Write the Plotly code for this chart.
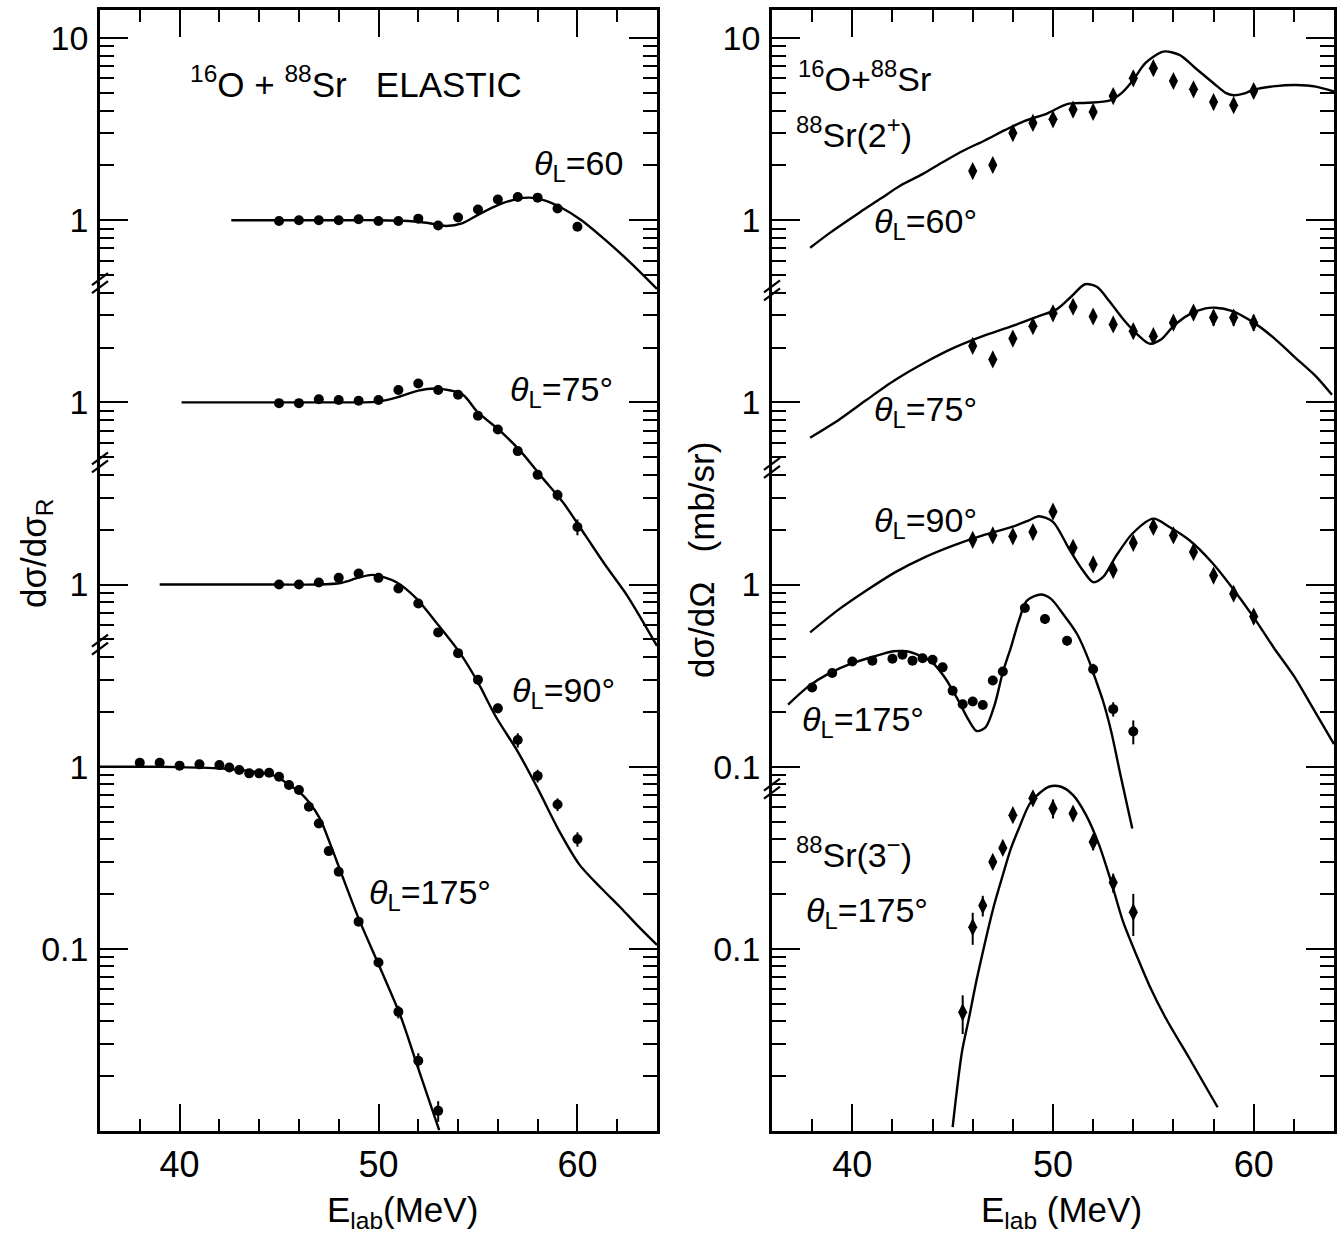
import numpy as np
import plotly.graph_objects as go

# ================= DATA =================
# Left panel: 16O + 88Sr elastic, dsigma/dsigma_R (each angle shifted down by one decade)
el60_E = [45, 46, 47, 48, 49, 50, 51, 52, 53, 54, 55, 56, 57, 58, 59, 60]
el60_V = [0.99, 1.0, 1.0, 1.0, 1.013, 0.99, 0.99, 1.02, 0.935, 1.034, 1.145, 1.30, 1.34, 1.33, 1.16, 0.92]
el60_err = [0, 0, 0, 0, 0, 0, 0, 0, 0, 0, 0, 0, 0, 0, 0, 0.04]
el60_cE = [42.6, 44, 46, 48, 50, 51.5, 52.5, 53.4, 54.2, 55.0, 56.0, 57.0, 57.6, 58.3, 59.2, 60.2, 61.4, 62.7, 64.0]
el60_cV = [1.0, 1.0, 1.0, 1.0, 1.0, 0.99, 0.965, 0.93, 0.96, 1.07, 1.21, 1.31, 1.33, 1.29, 1.17, 1.0, 0.78, 0.58, 0.42]

el75_E = [45, 46, 47, 48, 49, 50, 51, 52, 53, 54, 55, 56, 57, 58, 59, 60]
el75_V = [0.99, 0.99, 1.04, 1.03, 1.02, 1.03, 1.17, 1.27, 1.17, 1.10, 0.845, 0.71, 0.54, 0.40, 0.31, 0.207]
el75_err = [0, 0, 0, 0, 0, 0, 0, 0, 0, 0, 0, 0, 0, 0.04, 0.07, 0.10]
el75_cE = [40.1, 42, 44, 46, 48, 50, 51.0, 52.0, 52.9, 54.2, 55.0, 56.1, 57.2, 58.2, 59.3, 60.4, 61.4, 62.5, 63.2, 64.0]
el75_cV = [1.0, 1.0, 1.0, 1.0, 1.0, 1.01, 1.07, 1.16, 1.19, 1.11, 0.88, 0.70, 0.53, 0.39, 0.28, 0.186, 0.128, 0.087, 0.065, 0.046]

el90_E = [45, 46, 47, 48, 49, 50, 51, 52, 53, 54, 55, 56, 57, 58, 59, 60]
el90_V = [1.0, 1.0, 1.025, 1.088, 1.149, 1.088, 0.951, 0.787, 0.546, 0.42, 0.30, 0.209, 0.140, 0.089, 0.062, 0.040]
el90_err = [0, 0, 0, 0, 0, 0, 0, 0, 0, 0, 0.06, 0.06, 0.09, 0.08, 0.08, 0.09]
el90_cE = [39.0, 41, 43, 45, 47, 48.1, 49.0, 49.7, 50.9, 51.9, 53.0, 54.1, 55.0, 55.9, 57.0, 58.0, 59.1, 60.1, 61.2, 62.2, 63.0, 64.0]
el90_cV = [1.0, 1.0, 1.0, 1.0, 1.0, 1.02, 1.09, 1.13, 1.03, 0.84, 0.60, 0.42, 0.29, 0.188, 0.121, 0.076, 0.044, 0.029, 0.0215, 0.0167, 0.0135, 0.0105]

el175_E = [38, 39, 40, 41, 42, 42.5, 43, 43.5, 44, 44.5, 45, 45.5, 46, 46.5, 47, 47.5, 48, 49, 50, 51, 52, 53]
el175_V = [1.05, 1.05, 1.013, 1.03, 1.02, 0.99, 0.959, 0.919, 0.919, 0.927, 0.881, 0.793, 0.745, 0.603,
           0.488, 0.344, 0.265, 0.141, 0.0841, 0.0451, 0.0243, 0.0129]
el175_err = [0] * 19 + [0.08, 0.10, 0.13]
el175_cE = [36, 38, 40, 42, 43, 44, 44.9, 45.4, 46.0, 46.5, 47.05, 47.6, 48.1, 49.0, 50.05, 51.1, 52.0, 53.05]
el175_cV = [1.0, 1.0, 0.995, 0.98, 0.96, 0.93, 0.88, 0.81, 0.73, 0.64, 0.52, 0.37, 0.265, 0.147, 0.080, 0.043, 0.022, 0.0101]

# Right panel: inelastic dsigma/dOmega (mb/sr)
in60_E = [46, 47, 48, 49, 50, 51, 52, 53, 54, 55, 56, 57, 58, 59, 60]
in60_V = [1.86, 2.01, 3.01, 3.42, 3.58, 4.05, 3.93, 4.80, 6.01, 6.83, 5.81, 5.23, 4.45, 4.28, 5.12]
in60_err = [0.05] * 13 + [0.06, 0.08]
in60_cE = [37.9, 38.9, 40.35, 41.4, 42.4, 43.5, 44.5, 45.5, 46.6, 47.6, 48.6, 49.7, 50.7, 51.7, 52.8, 53.4,
           54.0, 54.6, 55.5, 56.3, 57.1, 58.0, 58.6, 59.0, 59.5, 60.0, 61.1, 62.1, 63.1, 64.0]
in60_cV = [0.706, 0.855, 1.10, 1.31, 1.55, 1.79, 2.08, 2.40, 2.74, 3.12, 3.51, 3.85, 4.34, 4.41, 4.53, 4.97,
           5.89, 7.28, 8.43, 8.08, 6.83, 5.65, 5.0, 4.85, 4.95, 5.2, 5.45, 5.52, 5.41, 5.08]

in75_E = [46, 47, 48, 49, 50, 51, 52, 53, 54, 55, 56, 57, 58, 59, 60]
in75_V = [2.04, 1.72, 2.24, 2.62, 3.08, 3.35, 2.96, 2.68, 2.46, 2.31, 2.74, 3.11, 2.92, 2.92, 2.74]
in75_err = [0.06, 0.05, 0.05, 0.05, 0.05, 0.05, 0.05, 0.05, 0.05, 0.05, 0.07, 0.06, 0.10, 0.10, 0.10]
in75_cE = [37.9, 39.25, 40.7, 42.15, 43.6, 45.05, 46.5, 47.95, 49.2, 50.2, 50.9, 51.6, 52.2, 52.8, 53.5, 54.2,
           54.8, 55.4, 56.0, 56.8, 57.6, 58.1, 58.9, 60.0, 61.0, 62.0, 63.1, 63.9]
in75_cV = [0.64, 0.79, 1.03, 1.33, 1.65, 1.99, 2.31, 2.62, 2.95, 3.25, 3.8, 4.45, 4.3, 3.6, 2.86, 2.36,
           2.10, 2.22, 2.62, 3.04, 3.28, 3.31, 3.18, 2.74, 2.26, 1.79, 1.39, 1.10]

in90_E = [46, 47, 48, 49, 50, 51, 52, 53, 54, 55, 56, 57, 58, 59, 60]
in90_V = [1.76, 1.86, 1.84, 1.94, 2.51, 1.59, 1.29, 1.20, 1.69, 2.07, 1.86, 1.51, 1.12, 0.89, 0.667]
in90_err = [0.04, 0.04, 0.05, 0.05, 0.06, 0.07, 0.08, 0.06, 0.06, 0.07, 0.06, 0.06, 0.08, 0.08, 0.09]
in90_cE = [37.9, 39.25, 40.7, 42.15, 43.6, 45.05, 46.5, 47.95, 48.8, 49.3, 50.0, 50.8, 51.5, 52.0, 52.5, 53.1,
           53.95, 55.0, 55.8, 56.8, 57.9, 58.9, 60.0, 61.0, 62.0, 63.0, 64.0]
in90_cV = [0.546, 0.719, 0.927, 1.17, 1.41, 1.64, 1.86, 2.07, 2.25, 2.37, 2.21, 1.57, 1.19, 1.03, 1.10, 1.41,
           1.90, 2.30, 2.07, 1.75, 1.33, 0.97, 0.66, 0.45, 0.315, 0.205, 0.133]

in175_E = [38, 39, 40, 41, 42, 42.5, 43, 43.5, 44, 44.5, 45, 45.5, 46, 46.5, 47, 47.5, 48.6, 49.6, 50.7, 52, 53, 54]
in175_V = [0.272, 0.327, 0.378, 0.382, 0.391, 0.412, 0.382, 0.394, 0.386, 0.351, 0.261, 0.220, 0.228, 0.218,
           0.297, 0.333, 0.743, 0.647, 0.491, 0.343, 0.207, 0.156]
in175_err = [0.03] * 16 + [0.04, 0.06, 0.06, 0.07, 0.09, 0.15]
in175_cE = [36.8, 37.8, 38.8, 40.0, 41.0, 42.05, 42.7, 43.3, 43.9, 44.6, 45.2, 45.8, 46.2, 46.65, 47.1, 47.5,
            47.9, 48.3, 48.7, 49.4, 49.9, 50.5, 51.2, 51.8, 52.1, 52.5, 52.9, 53.4, 53.95]
in175_cV = [0.219, 0.275, 0.323, 0.37, 0.40, 0.43, 0.43, 0.41, 0.38, 0.31, 0.24, 0.18, 0.157, 0.165, 0.22, 0.33,
            0.45, 0.633, 0.816, 0.881, 0.834, 0.689, 0.535, 0.38, 0.306, 0.228, 0.156, 0.086, 0.0458]

oc175_E = [45.5, 46, 46.5, 47, 47.5, 48, 49, 50, 51, 52, 53, 54]
oc175_V = [0.0448, 0.1315, 0.173, 0.300, 0.358, 0.542, 0.67, 0.590, 0.553, 0.386, 0.231, 0.159]
oc175_err = [0.24, 0.20, 0.13, 0.08, 0.08, 0.07, 0.06, 0.12, 0.06, 0.10, 0.12, 0.26]
oc175_cE = [45.0, 45.46, 45.8, 46.2, 46.65, 47.06, 47.5, 47.9, 48.3, 48.9, 49.8, 50.4, 51.0, 51.65, 52.3, 52.9,
            53.5, 54.2, 54.8, 55.6, 56.8, 58.2]
oc175_cV = [0.0105, 0.027, 0.041, 0.068, 0.113, 0.173, 0.254, 0.355, 0.458, 0.641, 0.776, 0.776, 0.698, 0.542,
            0.371, 0.233, 0.14, 0.09, 0.063, 0.042, 0.025, 0.0135]

# decade shift applied to each series when stacked on the common log axis
left_series = [
    (el60_E, el60_V, el60_err, el60_cE, el60_cV, 0),
    (el75_E, el75_V, el75_err, el75_cE, el75_cV, 1),
    (el90_E, el90_V, el90_err, el90_cE, el90_cV, 2),
    (el175_E, el175_V, el175_err, el175_cE, el175_cV, 3),
]
right_series = [
    (in60_E, in60_V, in60_err, in60_cE, in60_cV, 0),
    (in75_E, in75_V, in75_err, in75_cE, in75_cV, 1),
    (in90_E, in90_V, in90_err, in90_cE, in90_cV, 2),
    (in175_E, in175_V, in175_err, in175_cE, in175_cV, 2),
    (oc175_E, oc175_V, oc175_err, oc175_cE, oc175_cV, 3),
]

left_ticks = [10, 1, 0.1, 0.01, 0.001, 0.0001]
left_ticktext = ["10", "1", "1", "1", "1", "0.1"]
right_ticks = [10, 1, 0.1, 0.01, 0.001, 0.0001]
right_ticktext = ["10", "1", "1", "1", "0.1", "0.1"]
x_ticks = [40, 50, 60]
x_ticktext = ["40", "50", "60"]

# ================= LAYOUT CONSTANTS =================
W, H = 1338, 1237
FONT = "Liberation Sans"
XR = [36, 64]
YR = [-5.0, 1.154]
XD_L = [100 / W, 657 / W]
XD_R = [772 / W, 1334 / W]
YD = [1 - 1131 / H, 1 - 10 / H]

fig = go.Figure()


def add_series(series, xa, ya, marker_symbol, msize):
    for i, (E, V, err, cE, cV, k) in enumerate(series):
        s = 10.0 ** (-k)
        v = np.array(V) * s
        e = np.array(V) * np.array(err) * s
        fig.add_trace(go.Scatter(
            x=cE, y=np.array(cV) * s, mode="lines", xaxis=xa, yaxis=ya,
            line=dict(color="black", width=2.4, shape="spline", smoothing=0.8),
            showlegend=False, hoverinfo="skip"))
        round_dots = (ya == "y") or (i == 3)
        fig.add_trace(go.Scatter(
            x=E, y=v, mode="markers", xaxis=xa, yaxis=ya,
            marker=dict(color="black", size=10 if round_dots else msize,
                        symbol="circle" if round_dots else marker_symbol),
            error_y=dict(type="data", array=e, arrayminus=e, visible=True,
                         thickness=2, width=0, color="black"),
            showlegend=False))


add_series(left_series, "x", "y", "circle", 10)
add_series(right_series, "x2", "y2", "diamond-tall", 13)

minor_y = [m * 10.0 ** p for p in range(-5, 2) for m in range(2, 10) if m * 10.0 ** p < 10 ** YR[1]]
minor_x = [38, 42, 44, 46, 48, 52, 54, 56, 58, 62]

xax = dict(range=XR, showline=True, linewidth=2.6, linecolor="black", mirror="ticks",
           ticks="inside", ticklen=27, tickwidth=2, tickcolor="black",
           tickvals=x_ticks, ticktext=x_ticktext, showgrid=False, zeroline=False,
           tickfont=dict(family=FONT, size=36, color="black"), ticklabelstandoff=0,
           minor=dict(tickvals=minor_x, ticks="inside", ticklen=12, tickwidth=2,
                      tickcolor="black", showgrid=False))
yax = dict(type="log", range=YR, showline=True, linewidth=2.6, linecolor="black", mirror="ticks",
           ticks="inside", ticklen=28, tickwidth=2, tickcolor="black", showgrid=False, zeroline=False,
           tickfont=dict(family=FONT, size=34, color="black"), ticklabelstandoff=2,
           minor=dict(tickvals=minor_y, ticks="inside", ticklen=14, tickwidth=2,
                      tickcolor="black", showgrid=False))

fig.update_layout(
    width=W, height=H, margin=dict(l=0, r=0, t=0, b=0),
    paper_bgcolor="white", plot_bgcolor="white", showlegend=False,
    xaxis=dict(xax, domain=XD_L, anchor="y"),
    yaxis=dict(yax, domain=YD, anchor="x", tickvals=left_ticks, ticktext=left_ticktext),
    xaxis2=dict(xax, domain=XD_R, anchor="y2"),
    yaxis2=dict(yax, domain=YD, anchor="x2", tickvals=right_ticks, ticktext=right_ticktext),
)


def ann(text, x, ylog, xa="x", ya="y", size=34, xanchor="left"):
    fig.add_annotation(text=text, x=x, y=ylog, xref=xa, yref=ya, showarrow=False,
                       xanchor=xanchor, yanchor="middle",
                       font=dict(family=FONT, size=size, color="black"))


TH = "<i>θ</i><sub>L</sub>"
# Left panel labels
ann("<sup>16</sup>O + <sup>88</sup>Sr   ELASTIC", 40.4, 0.76, size=35)
ann(TH + "=60", 57.7, 0.30)
ann(TH + "=75°", 56.5, -0.94)
ann(TH + "=90°", 56.6, -2.59)
ann(TH + "=175°", 49.4, -3.70)
# Right panel labels
ann("<sup>16</sup>O+<sup>88</sup>Sr", 37.2, 0.79, "x2", "y2")
ann("<sup>88</sup>Sr(2<sup>+</sup>)", 37.1, 0.48, "x2", "y2")
ann(TH + "=60°", 41.0, -0.02, "x2", "y2")
ann(TH + "=75°", 41.0, -1.05, "x2", "y2")
ann(TH + "=90°", 41.0, -1.66, "x2", "y2")
ann(TH + "=175°", 37.4, -2.75, "x2", "y2")
ann("<sup>88</sup>Sr(3<sup>−</sup>)", 37.1, -3.47, "x2", "y2")
ann(TH + "=175°", 37.6, -3.80, "x2", "y2")

# Axis titles
fig.add_annotation(text="E<sub>lab</sub>(MeV)", x=51.2, y=1 - 1188 / H, xref="x", yref="paper",
                   xanchor="center", yanchor="top", showarrow=False,
                   font=dict(family=FONT, size=35, color="black"))
fig.add_annotation(text="E<sub>lab</sub> (MeV)", x=50.4, y=1 - 1188 / H, xref="x2", yref="paper",
                   xanchor="center", yanchor="top", showarrow=False,
                   font=dict(family=FONT, size=35, color="black"))
fig.add_annotation(text="dσ/dσ<sub>R</sub>", x=36 / W, y=1 - 553 / H, xref="paper", yref="paper",
                   xanchor="center", yanchor="middle", textangle=-90, showarrow=False,
                   font=dict(family=FONT, size=35, color="black"))
fig.add_annotation(text="dσ/dΩ\u00a0\u00a0\u00a0(mb/sr)", x=701 / W, y=1 - 560 / H, xref="paper", yref="paper",
                   xanchor="center", yanchor="middle", textangle=-90, showarrow=False,
                   font=dict(family=FONT, size=35, color="black"))


# Axis-break marks on the left frame line of each panel
def paper_y(logv):
    return YD[0] + (logv - YR[0]) / (YR[1] - YR[0]) * (YD[1] - YD[0])


def add_break(xpaper, logv):
    yc = paper_y(logv)
    for off in (-4, 4):
        fig.add_shape(type="line", xref="paper", yref="paper",
                      x0=xpaper - 8 / W, y0=yc + (off - 6) / H,
                      x1=xpaper + 8 / W, y1=yc + (off + 6) / H,
                      line=dict(color="black", width=2.2))


for lv in (-0.346, -1.33, -2.33):
    add_break(XD_L[0], lv)
for lv in (-0.385, -1.36, -3.12):
    add_break(XD_R[0], lv)

fig.write_html("out.html")
